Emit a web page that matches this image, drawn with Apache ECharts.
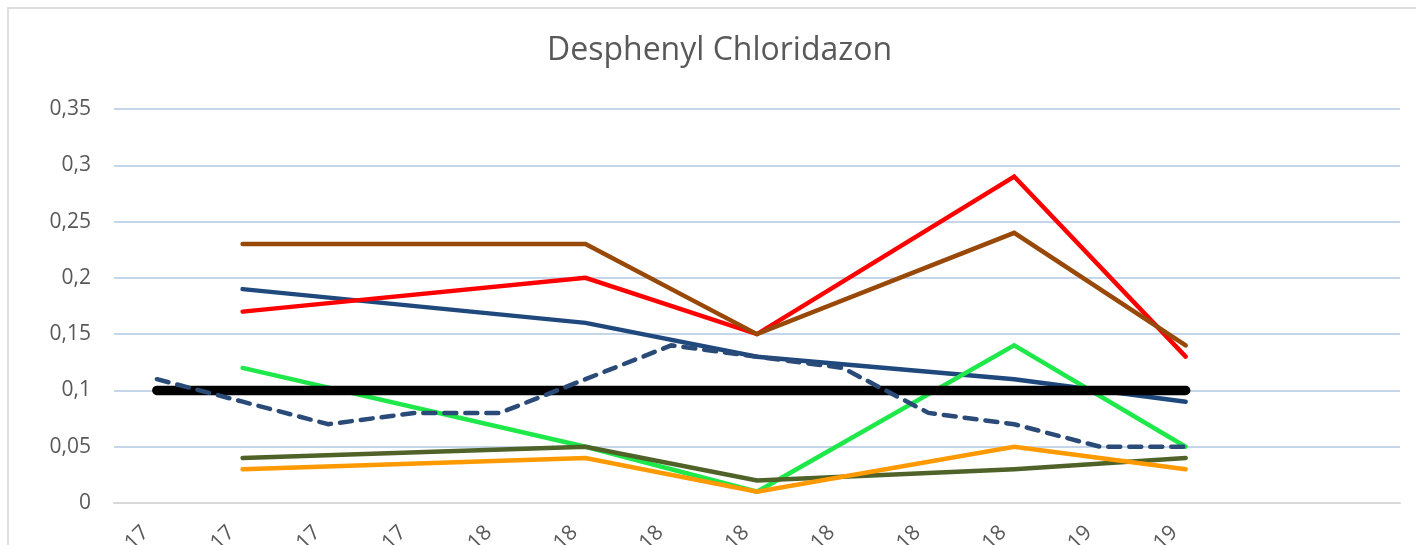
<!DOCTYPE html>
<html>
<head>
    <meta http-equiv="Content-Type" content="text/html; charset=UTF-8">
    <title>Desphenyl Chloridazon</title>
    <style>
        html,body {
            height: 100%;
            width: 100%;
            margin: 0;
            padding: 0;
            background: #fff;
            overflow: hidden;
        }
        #frame {
            position: absolute;
            left: 7px;
            top: 7px;
            width: 1500px;
            height: 600px;
            border-left: 2px solid #dedede;
            border-top: 2px solid #dedede;
        }
        #chart {
            position: absolute;
            left: 0;
            top: 0;
            width: 1416px;
            height: 545px;
        }
    </style>
    <script src="https://cdn.jsdelivr.net/npm/echarts@6/dist/echarts.min.js"></script>
</head>
<body>
<div id="frame"></div>
<div id="chart"></div>
<script type="text/javascript">
    // categorieen (datums), alleen het einde van de labels is zichtbaar
    var categories = ['apr-17', 'jun-17', 'aug-17', 'okt-17', 'jan-18', 'mrt-18', 'apr-18', 'mei-18',
        'jun-18', 'aug-18', 'okt-18', 'jan-19', 'mrt-19', '', ''];
    var yTicks = [0, 0.05, 0.1, 0.15, 0.2, 0.25, 0.3, 0.35];

    var norm = [0.1, 0.1, 0.1, 0.1, 0.1, 0.1, 0.1, 0.1, 0.1, 0.1, 0.1, 0.1, 0.1, null, null];
    var dashedBlue = [0.11, 0.09, 0.07, 0.08, 0.08, 0.11, 0.14, 0.13, 0.12, 0.08, 0.07, 0.05, 0.05, null, null];
    var blue = [null, 0.19, null, null, null, 0.16, null, 0.13, null, null, 0.11, null, 0.09, null, null];
    var red = [null, 0.17, null, null, null, 0.20, null, 0.15, null, null, 0.29, null, 0.13, null, null];
    var brown = [null, 0.23, null, null, null, 0.23, null, 0.15, null, null, 0.24, null, 0.14, null, null];
    var green = [null, 0.12, null, null, null, 0.05, null, 0.01, null, null, 0.14, null, 0.05, null, null];
    var olive = [null, 0.04, null, null, null, 0.05, null, 0.02, null, null, 0.03, null, 0.04, null, null];
    var orange = [null, 0.03, null, null, null, 0.04, null, 0.01, null, null, 0.05, null, 0.03, null, null];

    function lijn(name, data, color, width, dashed) {
        return {
            name: name,
            type: 'line',
            data: data,
            connectNulls: true,
            showSymbol: false,
            symbol: 'none',
            silent: true,
            lineStyle: {
                color: color,
                width: width,
                type: dashed ? [12, 9] : 'solid',
                cap: 'round',
                join: 'miter'
            }
        };
    }

    var myChart = echarts.init(document.getElementById('chart'));
    var option = {
        animation: false,
        title: {
            text: 'Desphenyl Chloridazon',
            left: 542,
            top: 30,
            textStyle: {
                fontFamily: 'Open Sans',
                fontSize: 32,
                fontWeight: 'normal',
                color: '#595959'
            }
        },
        grid: {
            left: 114,
            right: 16,
            top: 109,
            bottom: 42,
            containLabel: false,
            outerBoundsMode: 'none'
        },
        xAxis: {
            type: 'category',
            data: categories,
            boundaryGap: true,
            axisLine: {lineStyle: {color: '#d9d9d9', width: 2}},
            axisTick: {show: false},
            axisLabel: {
                interval: 0,
                rotate: 45,
                margin: 15,
                padding: [0, 16, 0, 0],
                fontFamily: 'Open Sans',
                fontSize: 21,
                color: '#595959'
            }
        },
        yAxis: {
            type: 'value',
            min: yTicks[0],
            max: yTicks[yTicks.length - 1],
            interval: 0.05,
            axisLine: {show: false},
            axisTick: {show: false},
            axisLabel: {
                margin: 23,
                fontFamily: 'Open Sans',
                fontSize: 21,
                color: '#595959',
                formatter: function (v) {
                    var t = yTicks.reduce(function (a, b) { return Math.abs(b - v) < Math.abs(a - v) ? b : a; });
                    return String(t).replace('.', ',');
                }
            },
            splitLine: {lineStyle: {color: '#c5d5ea', width: 2}}
        },
        series: [
            lijn('blauw', blue, '#1f497d', 4.5, false),
            lijn('rood', red, '#ff0000', 4.5, false),
            lijn('bruin', brown, '#984807', 4.5, false),
            lijn('groen', green, '#1ee84a', 4.5, false),
            lijn('olijf', olive, '#4f6228', 4.5, false),
            lijn('oranje', orange, '#ff9900', 4.5, false),
            lijn('norm', norm, '#000000', 9.5, false),
            lijn('blauw gestippeld', dashedBlue, '#2a4a78', 4.5, true)
        ]
    };
    myChart.setOption(option);
</script>
</body>
</html>
